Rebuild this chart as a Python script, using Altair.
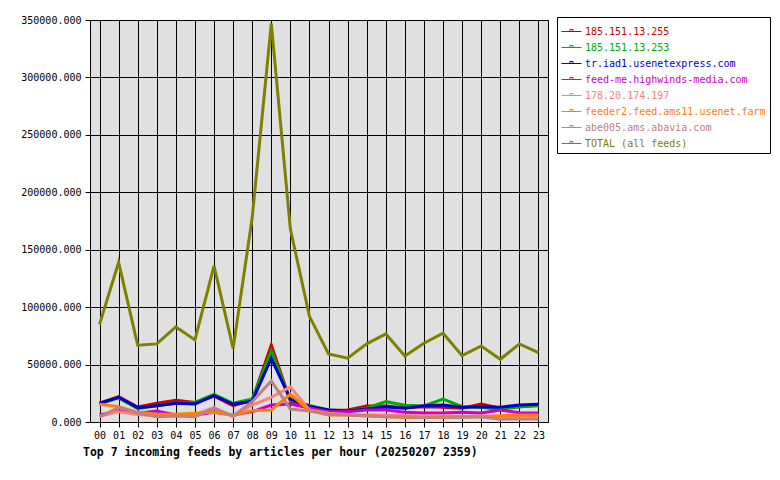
import altair as alt
import pandas as pd

hours = [f"{h:02d}" for h in range(24)]

names = [
    "185.151.13.255",
    "185.151.13.253",
    "tr.iad1.usenetexpress.com",
    "feed-me.highwinds-media.com",
    "178.20.174.197",
    "feeder2.feed.ams11.usenet.farm",
    "abe005.ams.abavia.com",
    "TOTAL (all feeds)",
]
colors = ["#cc0000", "#00aa00", "#0000cc", "#cc00cc", "#ff8080", "#ff8000", "#c08080", "#808000"]

red = [16300, 22000, 13000, 16300, 18900, 17000, 22600, 14200, 19000, 67000, 18000, 14000,
       10000, 10500, 14000, 14000, 12500, 13300, 12800, 11900, 15700, 12000, 13300, 14500]
green = [15500, 21000, 11500, 14200, 16300, 17000, 24100, 16300, 20000, 62000, 19000, 14500,
         10500, 9600, 12000, 17700, 14500, 14000, 20000, 13300, 12800, 11000, 13300, 14200]
blue = [16300, 21500, 12500, 14200, 16300, 15700, 22900, 15400, 18000, 55500, 20000, 13500,
        10500, 9600, 11300, 13000, 11900, 14200, 14800, 12800, 13300, 12800, 14800, 15400]
magenta = [6100, 9600, 7600, 9600, 6100, 6100, 8400, 6100, 9000, 14800, 15700, 12200,
           9000, 9000, 10500, 10500, 8400, 7800, 7800, 8400, 7800, 10500, 8000, 7800]
pink = [5000, 9000, 6500, 5500, 6000, 6500, 12500, 4600, 14800, 21500, 30500, 10500,
        7600, 6500, 6000, 6000, 5500, 5500, 5500, 5000, 5500, 4500, 5000, 5000]
orange = [15400, 13400, 8400, 6700, 6700, 7600, 8400, 6100, 9900, 10500, 24100, 10000,
          6100, 6100, 5500, 4600, 4000, 4000, 4000, 4600, 4600, 5500, 6100, 6100]
rosy = [4500, 12500, 7800, 4600, 5200, 4600, 11900, 5200, 17700, 35700, 11300, 9600,
        6700, 6100, 5200, 4600, 4600, 4000, 4600, 4000, 4600, 2500, 2600, 2600]
total = [85000, 139000, 66800, 68000, 82800, 71500, 136000, 64000, 178000, 347000, 168000, 92000,
         59300, 55500, 68000, 76700, 57500, 68600, 77300, 57800, 66200, 54600, 68000, 60400]

series = [red, green, blue, magenta, pink, orange, rosy, total]
y_ticks = [0, 50000, 100000, 150000, 200000, 250000, 300000, 350000]

rows = []
for i, (n, vals) in enumerate(zip(names, series)):
    for h, v in zip(hours, vals):
        rows.append({"hour": h, "feed": n, "articles": v, "k": i})
df = pd.DataFrame(rows)

label_expr = " : ".join(
    f"datum.value === '{n}' ? '{c}'" for n, c in zip(names[:-1], colors[:-1])
) + f" : '{colors[-1]}'"

FONT = "DejaVu Sans Mono"
sym = "M-1,0H1M-0.15,0V-0.2H0.15V0"

chart = alt.Chart(df).mark_line(strokeWidth=3).encode(
    x=alt.X(
        "hour:O",
        sort=hours,
        scale=alt.Scale(padding=0.5),
        axis=alt.Axis(
            title=None, labelAngle=0, grid=True, gridColor="black", gridOpacity=1,
            gridWidth=1, tickColor="black", tickSize=5, domain=False,
            labelFont=FONT, labelFontSize=10, labelColor="black", labelPadding=3,
        ),
    ),
    y=alt.Y(
        "articles:Q",
        scale=alt.Scale(domain=[0, 350000], nice=False),
        axis=alt.Axis(
            title=None, values=y_ticks, format=".3f", grid=True, gridColor="black",
            gridOpacity=1, gridWidth=1, tickColor="black", tickSize=5, domain=False,
            labelFont=FONT, labelFontSize=10, labelColor="black", labelPadding=4,
        ),
    ),
    color=alt.Color(
        "feed:N",
        sort=names,
        scale=alt.Scale(domain=names, range=colors),
        legend=alt.Legend(
            title=None, orient="none", legendX=467, legendY=-3, padding=4,
            strokeColor="black", fillColor="white", symbolType=sym, symbolSize=400,
            symbolStrokeWidth=1, labelFont=FONT, labelFontSize=10, labelOffset=3,
            rowPadding=-6, labelLimit=400, labelColor=alt.ExprRef(expr=label_expr),
        ),
    ),
    order=alt.Order("k:Q"),
).properties(
    width=458,
    height=402,
    background="white",
    autosize=alt.AutoSizeParams(type="none"),
    padding={"left": 90, "top": 20, "right": 232, "bottom": 58},
    title=alt.TitleParams(
        "Top 7 incoming feeds by articles per hour (20250207 2359)",
        orient="bottom", anchor="start", frame="group", dx=-7, offset=7,
        font=FONT, fontSize=11.5, fontWeight="bold", color="black",
    ),
).configure_view(
    fill="#e0e0e0", stroke="black", strokeWidth=1
)

chart.save("out.html", embed_options={"renderer": "svg", "actions": False})
